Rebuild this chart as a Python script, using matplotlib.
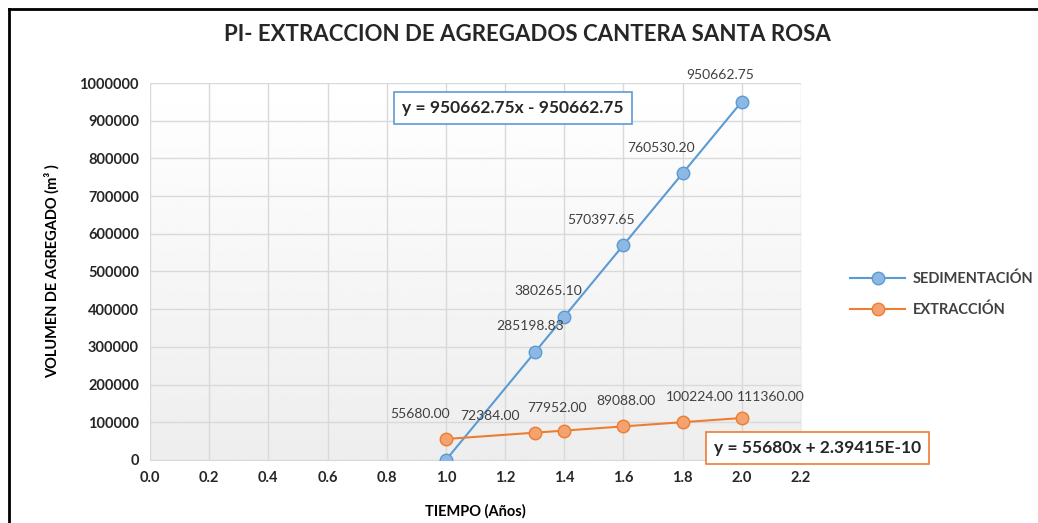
import numpy as np
import matplotlib
matplotlib.use("Agg")
import matplotlib.pyplot as plt
from matplotlib.lines import Line2D

plt.rcParams['font.family'] = ['Lato', 'DejaVu Sans']

# datos
tiempo = [1.0, 1.3, 1.4, 1.6, 1.8, 2.0]
sedimentacion = [0.0, 285198.83, 380265.10, 570397.65, 760530.20, 950662.75]
extraccion = [55680.00, 72384.00, 77952.00, 89088.00, 100224.00, 111360.00]
sed_labels = ['', '285198.83', '380265.10', '570397.65', '760530.20', '950662.75']
ext_labels = ['55680.00', '72384.00', '77952.00', '89088.00', '100224.00', '111360.00']
xticks = [0.0, 0.2, 0.4, 0.6, 0.8, 1.0, 1.2, 1.4, 1.6, 1.8, 2.0, 2.2]
yticks = [0, 100000, 200000, 300000, 400000, 500000, 600000, 700000, 800000, 900000, 1000000]

azul = '#5B9BD5'
naranja = '#ED7D31'

fig = plt.figure(figsize=(10.38, 5.23), dpi=100)
ax = fig.add_axes([0.1445, 0.1205, 0.6272, 0.7208])

# fondo degradado del area de trazado (blanco arriba, gris abajo)
grad = np.linspace(1.0, 0.93, 256).reshape(-1, 1)
ax.imshow(grad, extent=[0, 2.2, 0, 1000000], aspect='auto', cmap='gray',
          vmin=0, vmax=1, zorder=0)
ax.set_xlim(0, 2.2)
ax.set_ylim(0, 1000000)

ax.set_xticks(xticks)
ax.set_xticklabels(['%.1f' % v for v in xticks])
ax.set_yticks(yticks)
ax.set_yticklabels([str(v) for v in yticks])
ax.grid(True, color='#D9D9D9', linewidth=1)
ax.set_axisbelow(True)
for s in ['top', 'right', 'left']:
    ax.spines[s].set_visible(False)
ax.spines['bottom'].set_color('#D9D9D9')
ax.tick_params(length=0, labelsize=10.5, pad=8, colors='#262626')
for lab in ax.get_xticklabels() + ax.get_yticklabels():
    lab.set_fontweight('bold')

ax.plot(tiempo, sedimentacion, color=azul, lw=1.5, marker='o', ms=9,
        mfc='#8DB8E3', mec=azul, label='SEDIMENTACIÓN', zorder=3)
ax.plot(tiempo, extraccion, color=naranja, lw=1.5, marker='o', ms=9,
        mfc='#F3A270', mec=naranja, label='EXTRACCIÓN', zorder=3)

# etiquetas de datos (desplazamientos en pixeles)
sed_off = [(0, 0), (-5, 26), (-16, 26), (-22, 25), (-22, 25), (-22, 27)]
ext_off = [(-26, 25), (-45, 17), (-7, 23), (3, 25), (17, 25), (29, 21)]
for x, y, t, o in zip(tiempo, sedimentacion, sed_labels, sed_off):
    if t:
        ax.annotate(t, (x, y), xytext=o, textcoords='offset pixels', ha='center',
                    va='center', fontsize=10, color='#404040')
for x, y, t, o in zip(tiempo, extraccion, ext_labels, ext_off):
    ax.annotate(t, (x, y), xytext=o, textcoords='offset pixels', ha='center',
                va='center', fontsize=10, color='#404040')

# ecuaciones de tendencia
fig.text(0.3875, 0.793, 'y = 950662.75x - 950662.75', fontsize=12.5, fontweight='bold',
         color='#262626', ha='left', va='center',
         bbox=dict(boxstyle='square,pad=0.45', fc='white', ec=azul, lw=1.2))
fig.text(0.6875, 0.143, 'y = 55680x + 2.39415E-10', fontsize=12.5, fontweight='bold',
         color='#262626', ha='left', va='center',
         bbox=dict(boxstyle='square,pad=0.45', fc='white', ec=naranja, lw=1.2))

fig.suptitle('PI- EXTRACCION DE AGREGADOS CANTERA SANTA ROSA', x=0.508, y=0.955,
             fontsize=16, fontweight='bold', color='#262626')
ax.set_xlabel('TIEMPO (Años)', fontsize=10.5, fontweight='bold', labelpad=14)
ax.set_ylabel('VOLUMEN DE AGREGADO (m³ )', fontsize=10.5, fontweight='bold', labelpad=14)

leg = ax.legend(loc='center left', bbox_to_anchor=(1.055, 0.44), frameon=False,
                fontsize=10, handlelength=3.8, handletextpad=0.5, labelspacing=1.1,
                prop={'family': ['Liberation Sans Narrow', 'Lato'], 'weight': 'bold', 'size': 10.5})
for t in leg.get_texts():
    t.set_color('#404040')

# marco de la imagen
fig.add_artist(Line2D([0.0087, 0.0087], [0, 0.983], color='black', lw=2,
                      transform=fig.transFigure))
fig.add_artist(Line2D([0.0087, 1.0], [0.983, 0.983], color='black', lw=2,
                      transform=fig.transFigure))

fig.savefig('out.png', dpi=100)
